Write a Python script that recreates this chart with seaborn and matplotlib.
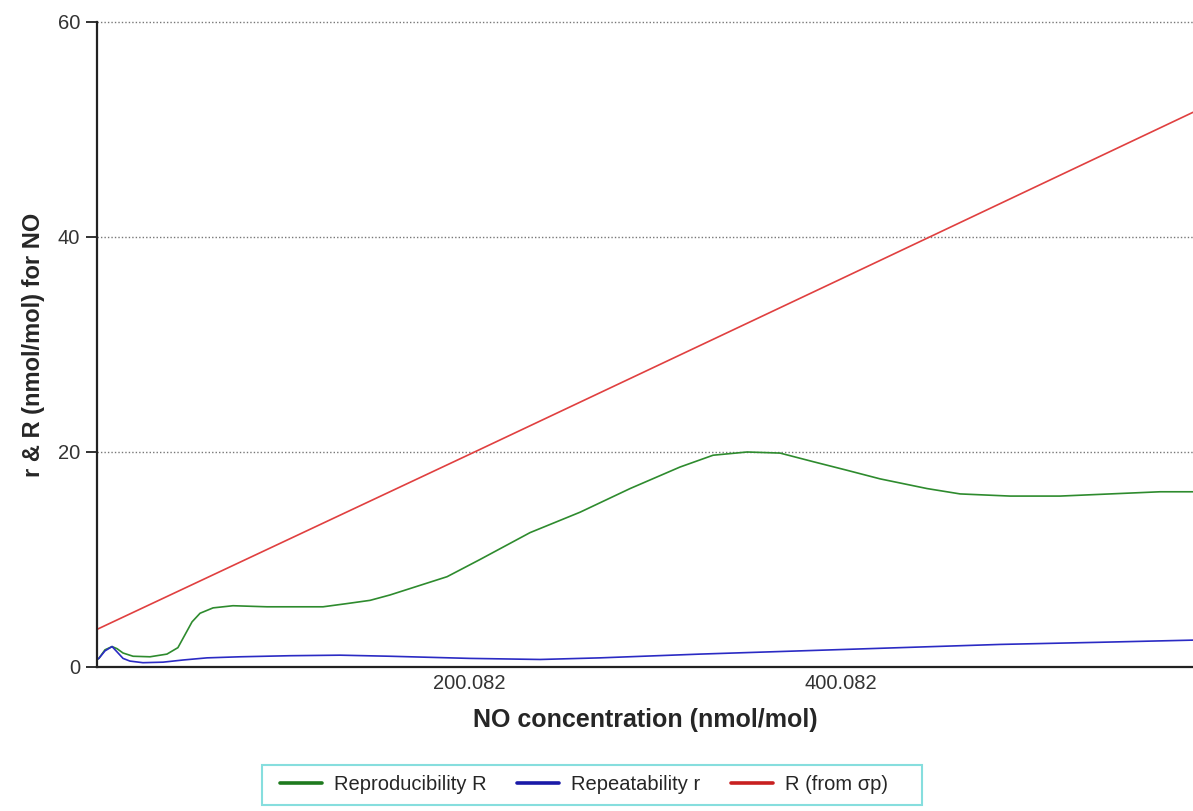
import numpy as np
import pandas as pd
import matplotlib
matplotlib.use('Agg')
import matplotlib.pyplot as plt
from matplotlib.lines import Line2D
from matplotlib.patches import Rectangle
import seaborn as sns

# ===================== data =====================
green_x = [0.0, 1.0, 4.3, 8.1, 10.8, 14.0, 19.4, 28.5, 37.6, 43.5, 47.3, 51.1, 55.4,
           62.4, 73.1, 91.4, 109.1, 121.5, 134.4, 146.8, 157.5, 188.2, 205.9,
           232.8, 259.7, 286.6, 313.4, 331.2, 349.5, 367.2, 385.0, 403.2, 421.0,
           446.2, 464.0, 490.9, 517.7, 544.6, 571.5, 589.2]
green_y = [0.7, 0.8, 1.6, 1.9, 1.7, 1.3, 1.0, 0.95, 1.2, 1.8, 3.0, 4.2, 5.0,
           5.5, 5.7, 5.6, 5.6, 5.6, 5.9, 6.2, 6.7, 8.4, 10.0,
           12.5, 14.4, 16.6, 18.6, 19.7, 20.0, 19.9, 19.1, 18.3, 17.5,
           16.6, 16.1, 15.9, 15.9, 16.1, 16.3, 16.3]

blue_x = [0.0, 1.0, 4.3, 8.1, 10.8, 14.0, 17.7, 24.7, 35.5, 46.2, 59.1, 76.9,
          103.8, 130.6, 157.5, 200.5, 238.2, 270.4, 324.2, 378.0, 431.7, 485.5,
          539.2, 589.2]
blue_y = [0.7, 0.8, 1.5, 1.9, 1.4, 0.8, 0.55, 0.4, 0.45, 0.65, 0.85, 0.95,
          1.05, 1.1, 1.0, 0.8, 0.7, 0.85, 1.2, 1.5, 1.8, 2.1,
          2.3, 2.5]

red_x = [0.0, 200.5, 400.0, 589.2]
red_y = [3.5, 19.8, 36.1, 51.6]

labels = ['Reproducibility R', 'Repeatability r', 'R (from σp)']
line_colors = ['#2e8b2e', '#2b2bc4', '#e04040']
legend_colors = ['#1e7a1e', '#1a1aa8', '#c82020']

x_ticks = [200.082, 400.082]
y_ticks = [0, 20, 40, 60]

# ===================== plot =====================
sns.set_style('white')
plt.rcParams['font.family'] = ['Liberation Sans', 'DejaVu Sans']

fig = plt.figure(figsize=(11.93, 8.11), dpi=100)
ax = fig.add_axes([97 / 1193, 1 - 667 / 811, 1 - 97 / 1193, (667 - 22) / 811])

# dotted horizontal grid lines
for gy in y_ticks[1:]:
    ax.axhline(gy, color='#777777', lw=1.0, ls=(0, (1, 1.5)), zorder=1, clip_on=False)

sns.lineplot(x=green_x, y=green_y, ax=ax, color=line_colors[0], lw=1.2, sort=False)
sns.lineplot(x=blue_x, y=blue_y, ax=ax, color=line_colors[1], lw=1.2, sort=False)
sns.lineplot(x=red_x, y=red_y, ax=ax, color=line_colors[2], lw=1.2, sort=False)

ax.set_xlim(0, 589.2)
ax.set_ylim(0, 60)
ax.set_xticks(x_ticks)
ax.set_xticklabels([f'{t:.3f}' for t in x_ticks], fontsize=14.5, color='#333333')
ax.set_yticks(y_ticks)
ax.set_yticklabels([str(t) for t in y_ticks], fontsize=14.5, color='#333333')
ax.tick_params(axis='x', length=0, pad=5)
ax.tick_params(axis='y', length=8, width=1.3, color='#222222', direction='out', pad=4, left=True)

for side in ['top', 'right']:
    ax.spines[side].set_visible(False)
for side in ['left', 'bottom']:
    ax.spines[side].set_color('#222222')
    ax.spines[side].set_linewidth(1.6)

ax.set_xlabel('NO concentration (nmol/mol)', fontsize=18, fontweight='bold', labelpad=11)
ax.set_ylabel('r & R (nmol/mol) for NO', fontsize=17, fontweight='bold', labelpad=9)

# legend below the plot, with its own box
handles = [Line2D([], [], color=c, lw=2.6) for c in legend_colors]
leg = fig.legend(handles, labels, loc='center', bbox_to_anchor=(584 / 1193, 1 - 785 / 811),
                 ncol=3, frameon=False, fontsize=14.5, handlelength=2.1,
                 columnspacing=1.5, borderpad=0.5, handletextpad=0.6)
fig.patches.append(Rectangle((262 / 1193, 1 - 805 / 811), (922 - 262) / 1193, 40 / 811,
                             transform=fig.transFigure, fill=False,
                             edgecolor='#86dede', lw=1.5))

fig.savefig('out.png', dpi=100)
